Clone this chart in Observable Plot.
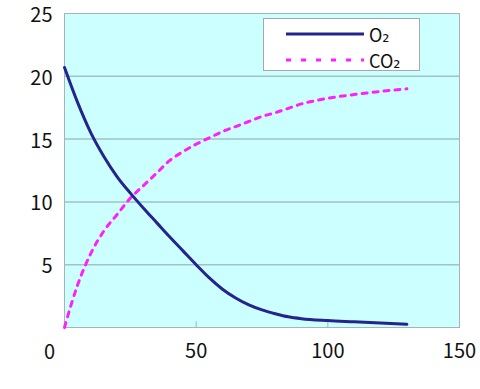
<!DOCTYPE html>
<html>
<head>
<meta charset="utf-8">
<script src="https://cdn.jsdelivr.net/npm/d3@7"></script>
<script src="https://cdn.jsdelivr.net/npm/@observablehq/plot@0.6"></script>
<style>
  html, body { margin: 0; padding: 0; background: #fff; }
  #wrap { position: relative; width: 480px; height: 389px; font-family: "Noto Sans CJK JP", "DejaVu Sans", sans-serif; }
  #legend { position: absolute; left: 263px; top: 18px; width: 157px; height: 53px; background: #fff; border: 1px solid #a8a8a8; box-sizing: border-box; }
  #legend .row { position: absolute; left: 0; height: 24px; width: 100%; }
  #legend svg { position: absolute; left: 22px; top: 0; }
  #legend .lab { position: absolute; left: 105px; top: 2px; font-size: 18px; line-height: 20px; color: #111; white-space: nowrap; }
</style>
</head>
<body>
<div id="wrap"></div>
<script>
// O2 series
const o2X = [0,5,10,15,20,25,30,35,40,45,50,55,60,65,70,75,80,85,90,100,110,120,130];
const o2Y = [20.7,17.9,15.5,13.6,12.0,10.7,9.5,8.35,7.2,6.1,5.0,3.95,3.05,2.35,1.8,1.4,1.1,0.85,0.7,0.55,0.45,0.35,0.25];
// CO2 series
const co2X = [0,2.5,5,10,15,20,25,30,35,40,45,50,55,60,65,70,75,80,85,90,95,100,110,120,130];
const co2Y = [0,1.8,3.4,5.9,7.7,9.0,10.3,11.3,12.3,13.3,14.0,14.6,15.1,15.6,16.0,16.4,16.8,17.1,17.45,17.8,18.05,18.25,18.55,18.8,19.0];
// ticks
const xTicks = [50, 100, 150];
const xZeroLabel = [0];
const yTicks = [5, 10, 15, 20, 25];
const gridY = [5, 10, 15, 20];
const legendLabels = ["O₂", "CO₂"];

const o2 = o2X.map((x, i) => ({x, y: o2Y[i]}));
const co2 = co2X.map((x, i) => ({x, y: co2Y[i]}));

const chart = Plot.plot({
  width: 480,
  height: 389,
  marginLeft: 64,
  marginRight: 21,
  marginTop: 13,
  marginBottom: 62,
  style: { fontFamily: '"Noto Sans CJK JP", "DejaVu Sans", sans-serif', fontSize: "20px", color: "#111", background: "#fff" },
  x: { domain: [0, 150] },
  y: { domain: [0, 25] },
  marks: [
    Plot.frame({ fill: "#ccffff", stroke: "none" }),
    Plot.ruleY(gridY, { stroke: "#a3c2c2", strokeWidth: 1.5 }),
    Plot.frame({ stroke: "#a8b4b4", strokeWidth: 1 }),
    Plot.ruleX([50, 100], { y1: 0, y2: 0.45, stroke: "#a8b4b4" }),
    Plot.axisX({ ticks: xTicks, tickSize: 0, tickPadding: 16, label: null, fontSize: 20 }),
    Plot.text(xZeroLabel, { x: d => d, y: 0, text: d => String(d), dx: -15, dy: 25, fontSize: 20 }),
    Plot.axisY({ ticks: yTicks, tickSize: 0, tickPadding: 12, label: null, fontSize: 20, dy: 2 }),
    Plot.line(co2, { x: "x", y: "y", stroke: "#ff20ff", strokeWidth: 3, strokeDasharray: "5,6", curve: "monotone-x" }),
    Plot.line(o2, { x: "x", y: "y", stroke: "#24248c", strokeWidth: 3, curve: "monotone-x" })
  ]
});

const wrap = document.getElementById("wrap");
wrap.appendChild(chart);

const legend = document.createElement("div");
legend.id = "legend";
legend.innerHTML = `
  <div class="row" style="top:3px">
    <svg width="80" height="24"><line x1="0" y1="12" x2="78" y2="12" stroke="#24248c" stroke-width="3"/></svg>
    <span class="lab">${legendLabels[0]}</span>
  </div>
  <div class="row" style="top:29px">
    <svg width="80" height="24"><line x1="0" y1="12" x2="78" y2="12" stroke="#ff20ff" stroke-width="3" stroke-dasharray="5,10"/></svg>
    <span class="lab">${legendLabels[1]}</span>
  </div>`;
wrap.appendChild(legend);
</script>
</body>
</html>
